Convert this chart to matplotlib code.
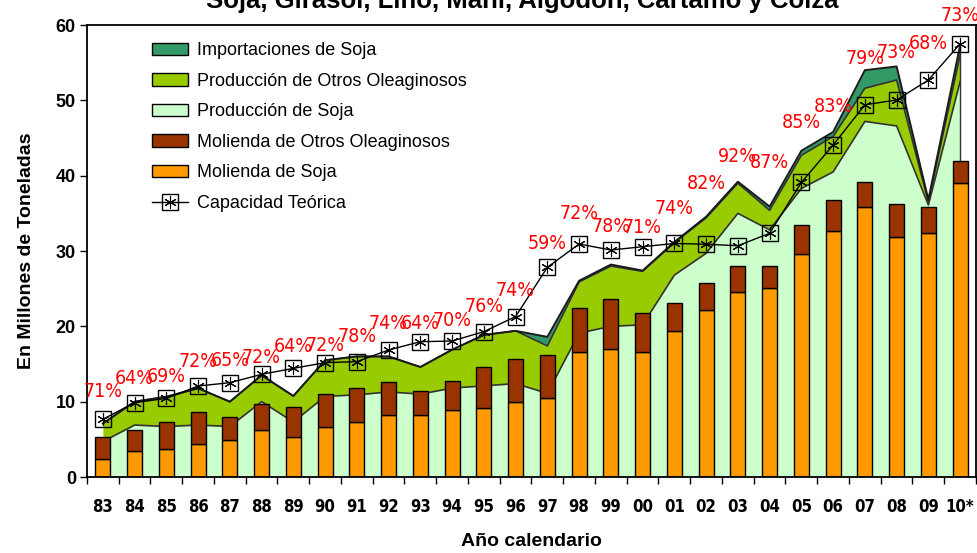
import numpy as np
import matplotlib
matplotlib.use("Agg")
import matplotlib.pyplot as plt
from matplotlib.patches import Patch
from matplotlib.lines import Line2D

plt.rcParams['font.family'] = ['Liberation Sans', 'DejaVu Sans']

years = ['83', '84', '85', '86', '87', '88', '89', '90', '91', '92', '93', '94', '95', '96',
         '97', '98', '99', '00', '01', '02', '03', '04', '05', '06', '07', '08', '09', '10*']

# millones de toneladas
molienda_soja = [2.35, 3.45, 3.67, 4.34, 4.9, 6.24, 5.35, 6.68, 7.34, 8.23, 8.23, 8.9, 9.12, 9.91,
                 10.44, 16.64, 16.99, 16.64, 19.42, 22.17, 24.6, 25.05, 29.6, 32.7, 35.9, 31.8, 32.4, 39.0]
molienda_otros = [3.0, 2.79, 3.67, 4.24, 3.1, 3.45, 3.9, 4.32, 4.52, 4.34, 3.23, 3.89, 5.52, 5.71,
                  5.76, 5.84, 6.6, 5.16, 3.72, 3.53, 3.45, 3.0, 3.85, 4.07, 3.2, 4.5, 3.5, 2.95]
prod_soja = [4.7, 6.9, 6.7, 6.9, 6.7, 10.0, 7.3, 10.7, 10.9, 11.3, 11.0, 11.8, 12.1, 12.4,
             11.1, 19.1, 20.0, 20.2, 26.8, 29.7, 35.0, 32.8, 38.3, 40.5, 47.2, 46.6, 36.1, 52.5]
prod_otros = [2.4, 3.1, 3.96, 4.87, 3.3, 3.5, 3.45, 4.8, 5.1, 4.7, 3.6, 5.1, 6.75, 7.0,
              6.3, 6.8, 8.0, 7.1, 4.3, 4.7, 4.0, 2.6, 4.4, 4.7, 4.4, 6.1, 0.4, 3.5]
import_soja = [0, 0, 0, 0, 0, 0, 0, 0, 0, 0, 0, 0, 0, 0,
               1.2, 0.15, 0.2, 0.1, 0.1, 0.15, 0.2, 0.5, 0.6, 0.6, 2.4, 1.8, 0.3, 1.3]
capacidad = [7.66, 9.87, 10.44, 12.08, 12.52, 13.63, 14.42, 15.18, 15.31, 16.86, 17.96, 18.05, 19.3, 21.3,
             27.84, 30.93, 30.13, 30.57, 31.0, 30.9, 30.7, 32.35, 39.1, 44.07, 49.4, 50.05, 52.7, 57.5]
pct_labels = ['71%', '64%', '69%', '72%', '65%', '72%', '64%', '72%', '78%', '74%', '64%', '70%', '76%', '74%',
              '59%', '72%', '78%', '71%', '74%', '82%', '92%', '87%', '85%', '83%', '79%', '73%', '68%', '73%']

# altura de cada etiqueta % (colocadas a mano en el original)
pct_y = [11.3, 13.1, 13.4, 15.3, 15.5, 15.8, 17.3, 17.5, 18.6, 20.4, 20.4, 20.8, 22.6, 24.8,
         31.0, 35.0, 33.3, 33.1, 35.6, 39.0, 42.5, 41.8, 47.0, 49.2, 55.6, 56.4, 57.5, 61.3]

c_import = '#339966'
c_otros = '#99CC00'
c_soja = '#CCFFCC'
c_mol_otros = '#993300'
c_mol_soja = '#FF9900'

x = np.arange(len(years))
top_soja = np.array(prod_soja)
top_otros = top_soja + np.array(prod_otros)
top_import = top_otros + np.array(import_soja)

fig = plt.figure(figsize=(9.78, 5.53), dpi=100)
ax = fig.add_axes([87 / 978, 1 - 477 / 553, 889 / 978, 452 / 553])

ax.fill_between(x, 0, top_soja, color=c_soja, lw=0, zorder=1)
ax.fill_between(x, top_soja, top_otros, color=c_otros, lw=0, zorder=1)
ax.fill_between(x, top_otros, top_import, color=c_import, lw=0, zorder=1)
ax.plot(x, top_soja, color='#333333', lw=1.2, zorder=1.5)
ax.plot(x, top_otros, color='#333333', lw=1.2, zorder=1.5)
ax.plot(x, top_import, color='#1a1a1a', lw=1.4, zorder=1.5)
ax.plot([x[-1], x[-1]], [0, top_import[-1]], color='#333333', lw=1.0, zorder=1.5)

ax.bar(x, molienda_soja, width=0.47, color=c_mol_soja, edgecolor='black', lw=1, zorder=2)
ax.bar(x, molienda_otros, width=0.47, bottom=molienda_soja, color=c_mol_otros,
       edgecolor='black', lw=1, zorder=2)

ax.plot(x, capacidad, color='black', lw=1, marker='s', ms=11, mfc='none', mec='black', mew=1, zorder=3)
ax.plot(x, capacidad, ls='none', marker=(6, 2, 0), ms=9, mec='black', mew=0.8, zorder=3)

for i in range(len(x)):
    ax.text(x[i], pct_y[i], pct_labels[i], color='#FF0000', fontsize=14, family='DejaVu Sans',
            fontstretch='condensed', ha='center', va='center', zorder=4)

ax.set_xlim(-0.5, len(x) - 0.5)
ax.set_ylim(0, 60)
ax.set_yticks(range(0, 61, 10))
ax.set_xticks(x)
ax.set_xticklabels(years, family='DejaVu Sans', fontstretch='condensed')
ax.set_xticks(np.arange(-0.5, len(x), 1), minor=True)
ax.tick_params(axis='x', which='major', length=0, pad=15, labelsize=12)
ax.tick_params(axis='x', which='minor', length=5, width=1)
ax.tick_params(axis='y', length=5, width=1, labelsize=13, pad=3)
for lab in ax.get_xticklabels() + ax.get_yticklabels():
    lab.set_fontweight('bold')
for s in ax.spines.values():
    s.set_linewidth(1.3)

ax.set_ylabel('En Millones de Toneladas', fontsize=14, fontweight='bold', labelpad=15)
ax.set_xlabel('Año calendario', fontsize=14, fontweight='bold', labelpad=12)

fig.text(0.534, 1 - 8 / 553, 'Soja, Girasol, Lino, Maní, Algodón, Cártamo y Colza',
         fontsize=18.5, fontweight='bold', ha='center', va='baseline')

handles = [Patch(facecolor=c_import, edgecolor='black'),
           Patch(facecolor=c_otros, edgecolor='black'),
           Patch(facecolor=c_soja, edgecolor='black'),
           Patch(facecolor=c_mol_otros, edgecolor='black'),
           Patch(facecolor=c_mol_soja, edgecolor='black'),
           (Line2D([], [], color='black', lw=1, marker='s', ms=11, mfc='none', mec='black'),
            Line2D([], [], ls='none', marker=(6, 2, 0), ms=9, mec='black', mew=0.8))]
labels = ['Importaciones de Soja', 'Producción de Otros Oleaginosos', 'Producción de Soja',
          'Molienda de Otros Oleaginosos', 'Molienda de Soja', 'Capacidad Teórica']
ax.legend(handles, labels, loc='upper left', bbox_to_anchor=(0.0645, 0.978), frameon=False,
          fontsize=13, handlelength=2.0, handleheight=0.7, handletextpad=0.5, labelspacing=0.75,
          borderaxespad=0)

fig.savefig('out.png', dpi=100)
